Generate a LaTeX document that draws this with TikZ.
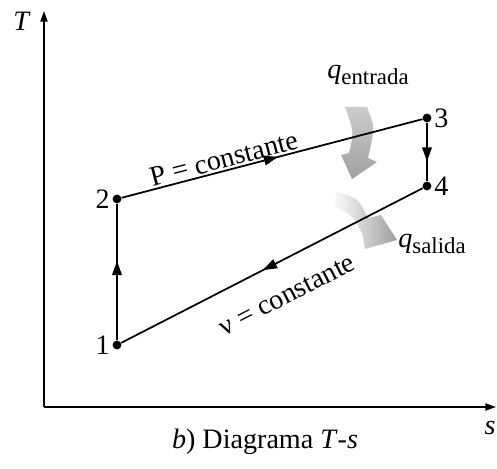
\documentclass[tikz,border=0pt]{standalone}
\usepackage{fontspec}
\setmainfont{Liberation Serif}
\usetikzlibrary{arrows.meta,decorations.markings}

\newcommand{\qsub}[1]{\raisebox{-0.45ex}{\fontsize{13}{14}\selectfont #1}}

\tikzset{
  state/.style={circle,fill=black,inner sep=0pt,minimum size=5pt},
  midarrow/.style={postaction={decorate},
    decoration={markings,mark=at position #1 with {\arrow{Triangle[length=8pt,width=5.5pt]}}}},
  heat/.style={draw=none}
}

\begin{document}
\begin{tikzpicture}[font=\fontsize{16}{18}\selectfont]
    \useasboundingbox (-0.88,-1.22) rectangle (9.06,8.14);

    % axes
    \coordinate (O) at (0,0);
    \coordinate (Ttop) at (0,7.92);
    \coordinate (send) at (9.04,0);
    \draw[line width=1pt,-{Triangle[length=6pt,width=4pt]}] (O) -- (Ttop);
    \draw[line width=1pt,-{Triangle[length=6pt,width=4pt]}] (O) -- (send);
    \node (Tlab) at (-0.44,7.72) {\textit{T}};
    \node (slab) at (8.92,-0.42) {\textit{s}};
    \node (caption) at (4.42,-0.7) {\textit{b}) Diagrama \textit{T}-\textit{s}};

    % states
    \node[state,label={[xshift=2pt]left:1}] (p1) at (1.46,1.24) {};
    \node[state,label={[xshift=2pt]left:2}] (p2) at (1.46,4.16) {};
    \node[state,label={[xshift=-2pt]right:3}] (p3) at (7.66,5.78) {};
    \node[state,label={[xshift=-2pt]right:4}] (p4) at (7.66,4.42) {};

    % heat arrows
    \shade[heat,top color=gray!40,bottom color=gray!75]
      (6.02,6.0) -- (6.46,6.0) .. controls (6.62,5.6) .. (6.48,4.98)
      -- (6.66,4.9) -- (6.16,4.56) -- (5.94,5.04) -- (6.1,5.08)
      .. controls (6.2,5.5) .. (6.02,6.0) -- cycle;
    \shade[heat,left color=white,right color=gray!75]
      (5.86,4.3) .. controls (6.28,4.18) .. (6.48,3.78)
      -- (6.74,3.84) -- (7.06,3.34) -- (6.42,3.16) -- (6.38,3.42)
      .. controls (6.2,3.82) .. (5.74,4.04) -- cycle;

    % cycle
    \draw[line width=1pt,midarrow=0.58] (p1) -- (p2);
    \draw[line width=1pt,midarrow=0.52] (p2) -- node[pos=0.35,above,sloped,inner sep=1pt] {P = constante} (p3);
    \draw[line width=1pt,midarrow=0.66] (p3) -- (p4);
    \draw[line width=1pt,midarrow=0.53] (p4) -- (p1);
    \path (p1) -- node[pos=0.5,below=11pt,sloped] {ν = constante} (p4);

    \node (qin) at (6.48,6.64) {\textit{q}\qsub{entrada}};
    \node (qout) at (7.76,3.26) {\textit{q}\qsub{salida}};
  \end{tikzpicture}
\end{document}
